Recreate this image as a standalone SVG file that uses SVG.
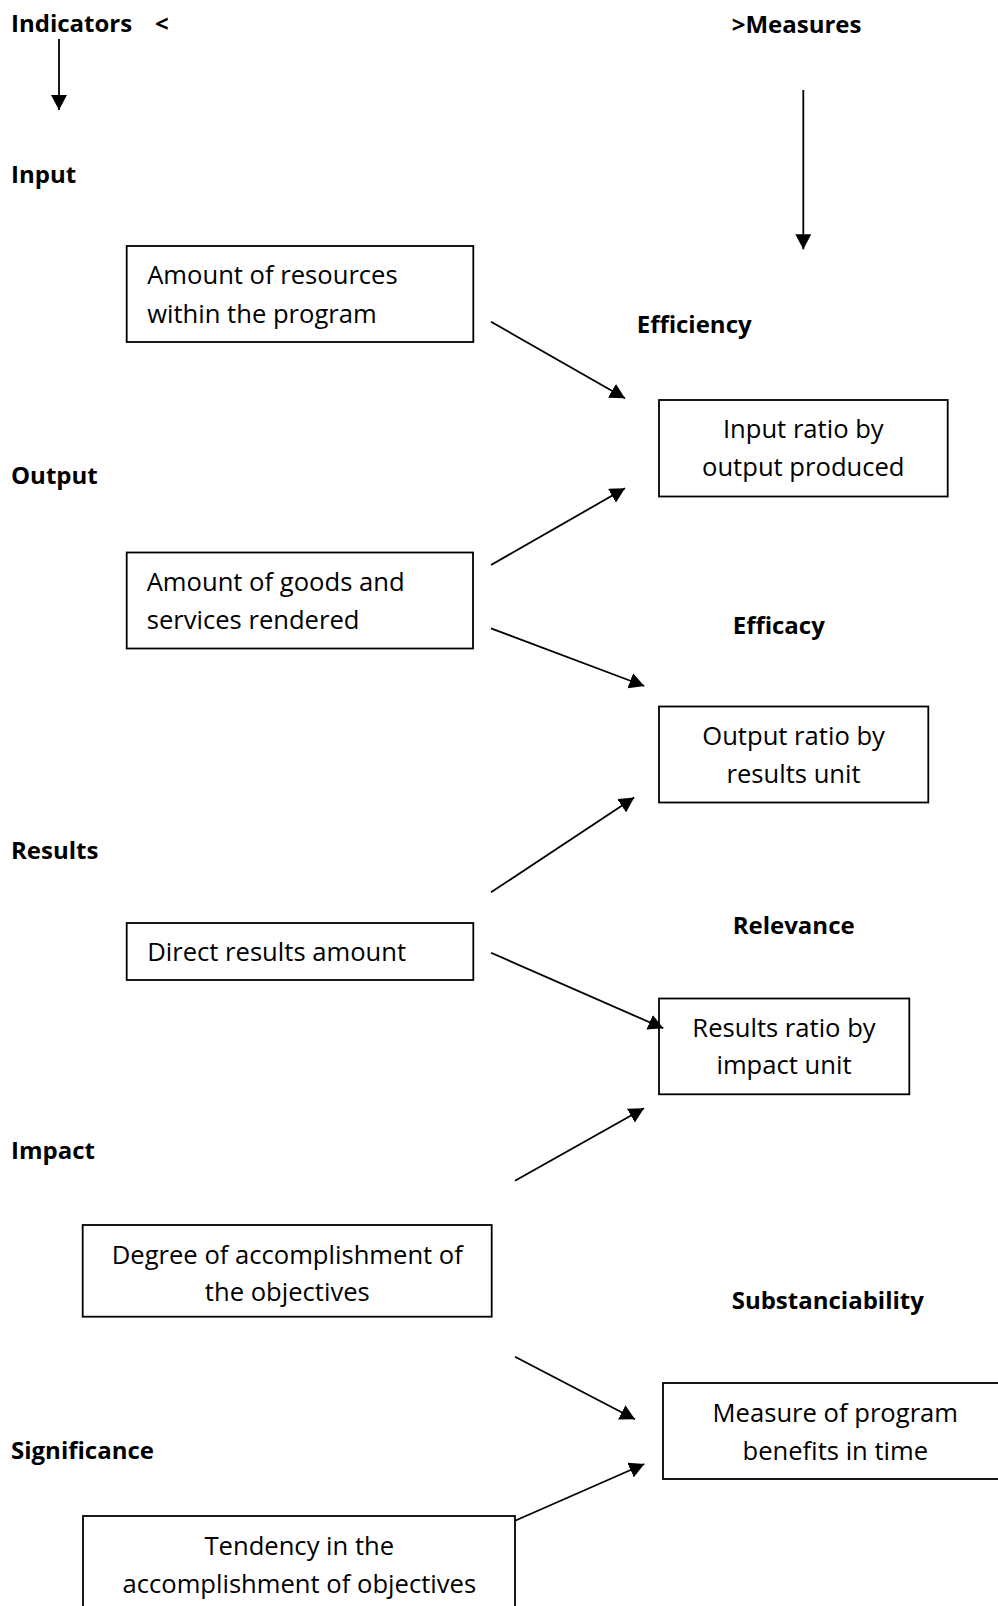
<svg xmlns="http://www.w3.org/2000/svg" width="998" height="1606" viewBox="0 0 998 1606">
<style>
.h{font-family:"Open Sans","Liberation Sans",sans-serif;font-weight:bold;font-size:24px;fill:#000}
.t{font-family:"Open Sans","Liberation Sans",sans-serif;font-size:25.6px;fill:#000}
.c{text-anchor:middle}
.box{fill:#fff;stroke:#000;stroke-width:1.8}
.ln{fill:none;stroke:#000;stroke-width:1.8}
</style>
<defs>
<marker id="ah" viewBox="0 0 15 16" markerWidth="15" markerHeight="16" refX="15" refY="8" orient="auto" markerUnits="userSpaceOnUse">
<path d="M0,0 L15,8 L0,16 Z" fill="#000"/>
</marker>
</defs>
<rect width="998" height="1606" fill="#fff"/>
<g id="labels">
<text class="h" x="11" y="32">Indicators</text>
<text class="h" x="155" y="32">&lt;</text>
<text class="h" x="731.7" y="33">&gt;Measures</text>
<text class="h" x="11" y="183">Input</text>
<text class="h" x="636.7" y="333">Efficiency</text>
<text class="h" x="11" y="483.6">Output</text>
<text class="h" x="732.7" y="634">Efficacy</text>
<text class="h" x="11" y="859">Results</text>
<text class="h" x="732.7" y="933.5">Relevance</text>
<text class="h" x="11" y="1158.5">Impact</text>
<text class="h" x="731.7" y="1308.5">Substanciability</text>
<text class="h" x="11" y="1459">Significance</text>
</g>
<g id="node-input">
<rect class="box" x="126.7" y="246" width="346.6" height="96"/>
<text class="t" x="147.2" y="284">Amount of resources</text>
<text class="t" x="147.2" y="322.7">within the program</text>
</g>
<g id="node-output">
<rect class="box" x="126.7" y="552.5" width="346.3" height="96"/>
<text class="t" x="146.7" y="591">Amount of goods and</text>
<text class="t" x="146.7" y="629">services rendered</text>
</g>
<g id="node-results">
<rect class="box" x="126.7" y="923" width="346.6" height="57"/>
<text class="t" x="147.2" y="961">Direct results amount</text>
</g>
<g id="node-impact">
<rect class="box" x="82.7" y="1225" width="409" height="91.7"/>
<text class="t c" x="287.3" y="1263.5">Degree of accomplishment of</text>
<text class="t c" x="287.3" y="1301">the objectives</text>
</g>
<g id="node-significance">
<rect class="box" x="83" y="1516" width="432" height="110"/>
<text class="t c" x="299.3" y="1555">Tendency in the</text>
<text class="t c" x="299.3" y="1593">accomplishment of objectives</text>
</g>
<g id="node-efficiency">
<rect class="box" x="659" y="400" width="288.7" height="96.5"/>
<text class="t c" x="803.3" y="437.7">Input ratio by</text>
<text class="t c" x="803.3" y="476">output produced</text>
</g>
<g id="node-efficacy">
<rect class="box" x="659" y="706.5" width="269.3" height="96"/>
<text class="t c" x="793.6" y="745">Output ratio by</text>
<text class="t c" x="793.6" y="782.5">results unit</text>
</g>
<g id="node-relevance">
<rect class="box" x="659" y="998.5" width="250.3" height="95.8"/>
<text class="t c" x="784" y="1036.7">Results ratio by</text>
<text class="t c" x="784" y="1073.5">impact unit</text>
</g>
<g id="node-substanciability">
<rect class="box" x="663" y="1383" width="345" height="96"/>
<text class="t c" x="835.3" y="1421.5">Measure of program</text>
<text class="t c" x="835.3" y="1459.5">benefits in time</text>
</g>
<g id="connectors">
<line class="ln" x1="59" y1="39" x2="59" y2="110" marker-end="url(#ah)"/>
<line class="ln" x1="803.3" y1="90" x2="803.3" y2="249.3" marker-end="url(#ah)"/>
<line class="ln" x1="491" y1="321.7" x2="625" y2="398.3" marker-end="url(#ah)"/>
<line class="ln" x1="491" y1="565" x2="625" y2="488.3" marker-end="url(#ah)"/>
<line class="ln" x1="491" y1="628.3" x2="644.3" y2="686" marker-end="url(#ah)"/>
<line class="ln" x1="491" y1="892.3" x2="634.2" y2="797.5" marker-end="url(#ah)"/>
<line class="ln" x1="491" y1="952.7" x2="663.3" y2="1028.3" marker-end="url(#ah)"/>
<line class="ln" x1="515" y1="1180.7" x2="644" y2="1108.3" marker-end="url(#ah)"/>
<line class="ln" x1="515" y1="1356.7" x2="635" y2="1419.3" marker-end="url(#ah)"/>
<line class="ln" x1="515" y1="1520.7" x2="644.3" y2="1464" marker-end="url(#ah)"/>
</g>
</svg>
